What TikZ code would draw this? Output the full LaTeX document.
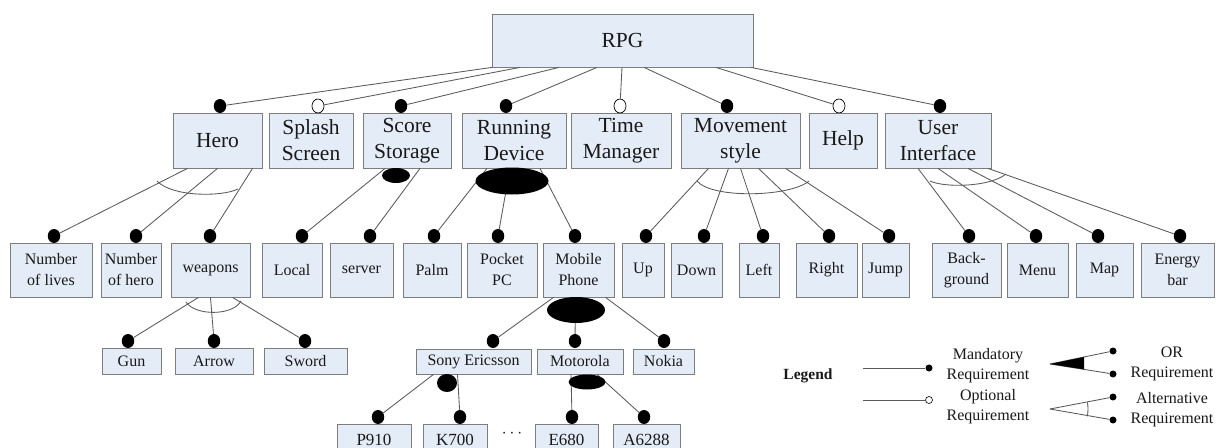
\documentclass[tikz,border=0pt]{standalone}
\usepackage{fontspec}
\setmainfont{Liberation Serif}
\usetikzlibrary{calc,shapes.geometric}
\definecolor{boxfill}{RGB}{228,236,247}
\definecolor{boxline}{RGB}{125,125,125}
\definecolor{linkgray}{RGB}{90,90,90}
\definecolor{ink}{RGB}{25,25,25}

% feature box given by its left, right, top and bottom edges
\newcommand\fbx[7][]{\node[feat,#1,minimum width={#4-#3},minimum height={#6-#5}] (#2) at ({(#3+#4)/2},{(#5+#6)/2}) {#7};}

\tikzset{
  feat/.style={draw=boxline, fill=boxfill, line width=0.8pt, inner sep=0pt, align=center, text=ink},
  lvone/.style={font=\fontsize{21.5}{26}\selectfont},
  lvtwo/.style={font=\fontsize{16}{21}\selectfont},
  lvthree/.style={font=\fontsize{16}{19}\selectfont},
  lvfour/.style={font=\fontsize{17}{20}\selectfont},
  mand/.style={ellipse, fill=black, inner sep=0pt, minimum width=12.5pt, minimum height=14pt},
  opt/.style={ellipse, draw=black, fill=white, line width=0.7pt, inner sep=0pt, minimum width=12pt, minimum height=14pt},
  link/.style={draw=linkgray, line width=0.85pt},
  blob/.style={ellipse, fill=black, inner sep=0pt},
  legtext/.style={font=\fontsize{16}{20}\selectfont, text=ink, align=center},
  smalldot/.style={circle, fill=black, inner sep=0pt, minimum size=7pt},
  smallopen/.style={circle, draw=black, fill=white, line width=0.6pt, inner sep=0pt, minimum size=7pt},
}

\begin{document}
\begin{tikzpicture}[x=1pt,y=-1pt]
\useasboundingbox (0,0) rectangle (1225,447);
\clip (0,0) rectangle (1225,447);
\fill[white] (0,0) rectangle (1225,447);

% ---- root ----
\fbx[lvone]{rpg}{492}{753}{14}{67}{RPG}

% ---- first level ----
\fbx[lvone]{hero}{173}{262}{113}{168}{Hero}
\fbx[lvone]{splash}{269}{353}{113}{168}{Splash\\Screen}
\fbx[lvone]{score}{363}{451}{113}{168}{Score\\Storage}
\fbx[lvone]{running}{462}{566}{113}{168}{Running\\Device}
\fbx[lvone]{time}{571}{671}{113}{168}{Time\\Manager}
\fbx[lvone]{movement}{681}{800}{113}{168}{Movement\\style}
\fbx[lvone]{help}{809}{877}{113}{168}{Help}
\fbx[lvone]{ui}{885}{991}{113}{168}{User\\Interface}

\node[mand] (d-hero) at (220,106) {};
\node[opt]  (d-splash) at (318,106) {};
\node[mand] (d-score) at (401,106) {};
\node[mand] (d-running) at (506,106) {};
\node[opt]  (d-time) at (620,106) {};
\node[mand] (d-movement) at (727,106) {};
\node[opt]  (d-help) at (839,106) {};
\node[mand] (d-ui) at (940,106) {};

% ---- second level ----
\fbx[lvtwo]{nol}{10}{92}{243}{297}{Number\\of lives}
\fbx[lvtwo]{noh}{101}{161}{243}{297}{Number\\of hero}
\fbx[lvtwo]{weapons}{171}{250}{243}{297}{weapons}
\fbx[lvtwo]{local}{262}{322}{243}{297}{Local}
\fbx[lvtwo]{server}{330}{393}{243}{297}{server}
\fbx[lvtwo]{palm}{403}{461}{243}{297}{Palm}
\fbx[lvtwo]{pocket}{467}{537}{243}{297}{Pocket\\PC}
\fbx[lvtwo]{mobile}{543}{614}{243}{297}{Mobile\\Phone}
\fbx[lvtwo]{up}{622}{664}{243}{297}{Up}
\fbx[lvtwo]{down}{671}{722}{243}{297}{Down}
\fbx[lvtwo]{left}{739}{779}{243}{297}{Left}
\fbx[lvtwo]{right}{796}{857}{243}{297}{Right}
\fbx[lvtwo]{jump}{862}{909}{243}{297}{Jump}
\fbx[lvtwo]{back}{932}{1001}{243}{297}{Back-\\ground}
\fbx[lvtwo]{menu}{1007}{1068}{243}{297}{Menu}
\fbx[lvtwo]{map}{1076}{1133}{243}{297}{Map}
\fbx[lvtwo]{energy}{1141}{1214}{243}{297}{Energy\\bar}

\foreach \n/\x in {nol/54, noh/136, weapons/210, local/302, server/370, palm/434,
  pocket/498, mobile/575, up/646, down/704, left/763, right/829, jump/889,
  back/969, menu/1036, map/1098, energy/1180}
  \node[mand] (d-\n) at (\x,236) {};

% ---- third level ----
\fbx[lvthree]{gun}{102}{161}{348}{374}{Gun}
\fbx[lvthree]{arrow}{175}{253}{348}{374}{Arrow}
\fbx[lvthree]{sword}{264}{347}{348}{374}{Sword}
\fbx[lvthree]{sony}{416}{531}{349}{374}{Sony Ericsson}
\fbx[lvthree]{motorola}{537}{623}{349}{374}{Motorola}
\fbx[lvthree]{nokia}{633}{694}{349}{374}{Nokia}

\foreach \n/\x in {gun/128, arrow/214, sword/305, sony/493, motorola/575, nokia/664}
  \node[mand] (d-\n) at (\x,341) {};

% ---- fourth level ----
\fbx[lvfour]{p910}{337}{411}{424}{455}{P910}
\fbx[lvfour]{k700}{423}{487}{424}{455}{K700}
\fbx[lvfour]{e680}{535}{598}{424}{455}{E680}
\fbx[lvfour]{a6288}{613}{680}{424}{455}{A6288}
\node[lvthree, text=ink, inner sep=0pt] (more) at (512,434) {$\cdots$};

\foreach \n/\x in {p910/378, k700/460, e680/572, a6288/644}
  \node[mand] (d-\n) at (\x,417) {};

% ---- connectors from the root ----
\draw[link] ([xshift=-130.5pt]rpg.south) -- (d-hero);
\draw[link] ([xshift=-102.5pt]rpg.south) -- (d-splash);
\draw[link] ([xshift=-63.5pt]rpg.south) -- (d-score);
\draw[link] ([xshift=-25.5pt]rpg.south) -- (d-running);
\draw[link] ([xshift=-0.5pt]rpg.south) -- (d-time);
\draw[link] ([xshift=21.5pt]rpg.south) -- (d-movement);
\draw[link] ([xshift=93.5pt]rpg.south) -- (d-help);
\draw[link] ([xshift=128.5pt]rpg.south) -- (d-ui);

% ---- Hero ----
\draw[link] ([xshift=-30pt]hero.south) -- (d-nol);
\draw[link] ([xshift=0pt]hero.south) -- (d-noh);
\draw[link] ([xshift=35pt]hero.south) -- (d-weapons);
\draw[link] (157,181) .. controls (172,197) and (222,197) .. (238,189);

% ---- weapons ----
\draw[link] ([xshift=-12pt]weapons.south) -- (d-gun);
\draw[link] ([xshift=0pt]weapons.south) -- (d-arrow);
\draw[link] ([xshift=22pt]weapons.south) -- (d-sword);
\draw[link] (186,302) .. controls (195,316) and (233,316) .. (241,301);

% ---- Score Storage ----
\draw[link] ([xshift=-22pt]score.south) -- (d-local);
\draw[link] ([xshift=13pt]score.south) -- (d-server);
\node[blob, minimum width=28pt, minimum height=15pt] (or-score) at (396,175.5) {};

% ---- Running Device ----
\draw[link] ([xshift=-27pt]running.south) -- (d-palm);
\draw[link] ([xshift=-4pt]running.south) -- (d-pocket);
\draw[link] ([xshift=26pt]running.south) -- (d-mobile);
\node[blob, minimum width=73pt, minimum height=27pt] (or-running) at (512,181) {};

% ---- Mobile Phone ----
\draw[link] ([xshift=-25pt]mobile.south) -- (d-sony);
\draw[link] ([xshift=-3pt]mobile.south) -- (d-motorola);
\draw[link] ([xshift=27pt]mobile.south) -- (d-nokia);
\node[blob, minimum width=58pt, minimum height=26pt] (or-mobile) at (576,310) {};

% ---- Sony Ericsson ----
\draw[link] ([xshift=-40pt]sony.south) -- (d-p910);
\draw[link] ([xshift=-16pt]sony.south) -- (d-k700);
\node[blob, minimum width=20pt, minimum height=18pt] (or-sony) at (447,383) {};

% ---- Motorola ----
\draw[link] ([xshift=-9pt]motorola.south) -- (d-e680);
\draw[link] ([xshift=17pt]motorola.south) -- (d-a6288);
\node[blob, minimum width=37pt, minimum height=15pt] (or-motorola) at (587,382) {};

% ---- Movement style ----
\draw[link] ([xshift=-32pt]movement.south) -- (d-up);
\draw[link] ([xshift=-12pt]movement.south) -- (d-down);
\draw[link] ([xshift=0pt]movement.south) -- (d-left);
\draw[link] ([xshift=18pt]movement.south) -- (d-right);
\draw[link] ([xshift=45pt]movement.south) -- (d-jump);
\draw[link] (697,181) .. controls (712,199) and (790,197) .. (809,181);

% ---- User Interface ----
\draw[link] ([xshift=-20pt]ui.south) -- (d-back);
\draw[link] ([xshift=0pt]ui.south) -- (d-menu);
\draw[link] ([xshift=30pt]ui.south) -- (d-map);
\draw[link] ([xshift=50pt]ui.south) -- (d-energy);
\draw[link] (930,181) .. controls (945,188) and (990,187) .. (1006,174);

% ---- legend ----
\node[font=\fontsize{15.5}{19}\selectfont\bfseries, text=ink] (legend) at (808,376) {Legend};

\coordinate (mand-a) at (863,368);
\node[smalldot] (mand-b) at (929,368) {};
\draw[link] (mand-a) -- (mand-b);
\node[legtext] (mand-t) at (988,366) {Mandatory\\Requirement};

\coordinate (opt-a) at (863,400);
\node[smallopen] (opt-b) at (929,400) {};
\draw[link] (opt-a) -- (opt-b);
\node[legtext] (opt-t) at (988,407) {Optional\\Requirement};

\coordinate (or-a) at (1050,364);
\node[smalldot] (or-u) at (1113,351) {};
\node[smalldot] (or-l) at (1113,374) {};
\draw[link] (or-a) -- (or-u);
\draw[link] (or-a) -- (or-l);
\fill[black] (or-a) -- ($(or-a)!0.54!(or-u)$) -- ($(or-a)!0.54!(or-l)$) -- cycle;
\node[legtext] (or-t) at (1172,364) {OR\\Requirement};

\coordinate (alt-a) at (1050,409);
\node[smalldot] (alt-u) at (1113,397) {};
\node[smalldot] (alt-l) at (1113,420) {};
\draw[link] (alt-a) -- (alt-u);
\draw[link] (alt-a) -- (alt-l);
\draw[link] (alt-a) ++(11:38) arc (11:-10:38);
\node[legtext] (alt-t) at (1172,410) {Alternative\\Requirement};

\end{tikzpicture}
\end{document}
